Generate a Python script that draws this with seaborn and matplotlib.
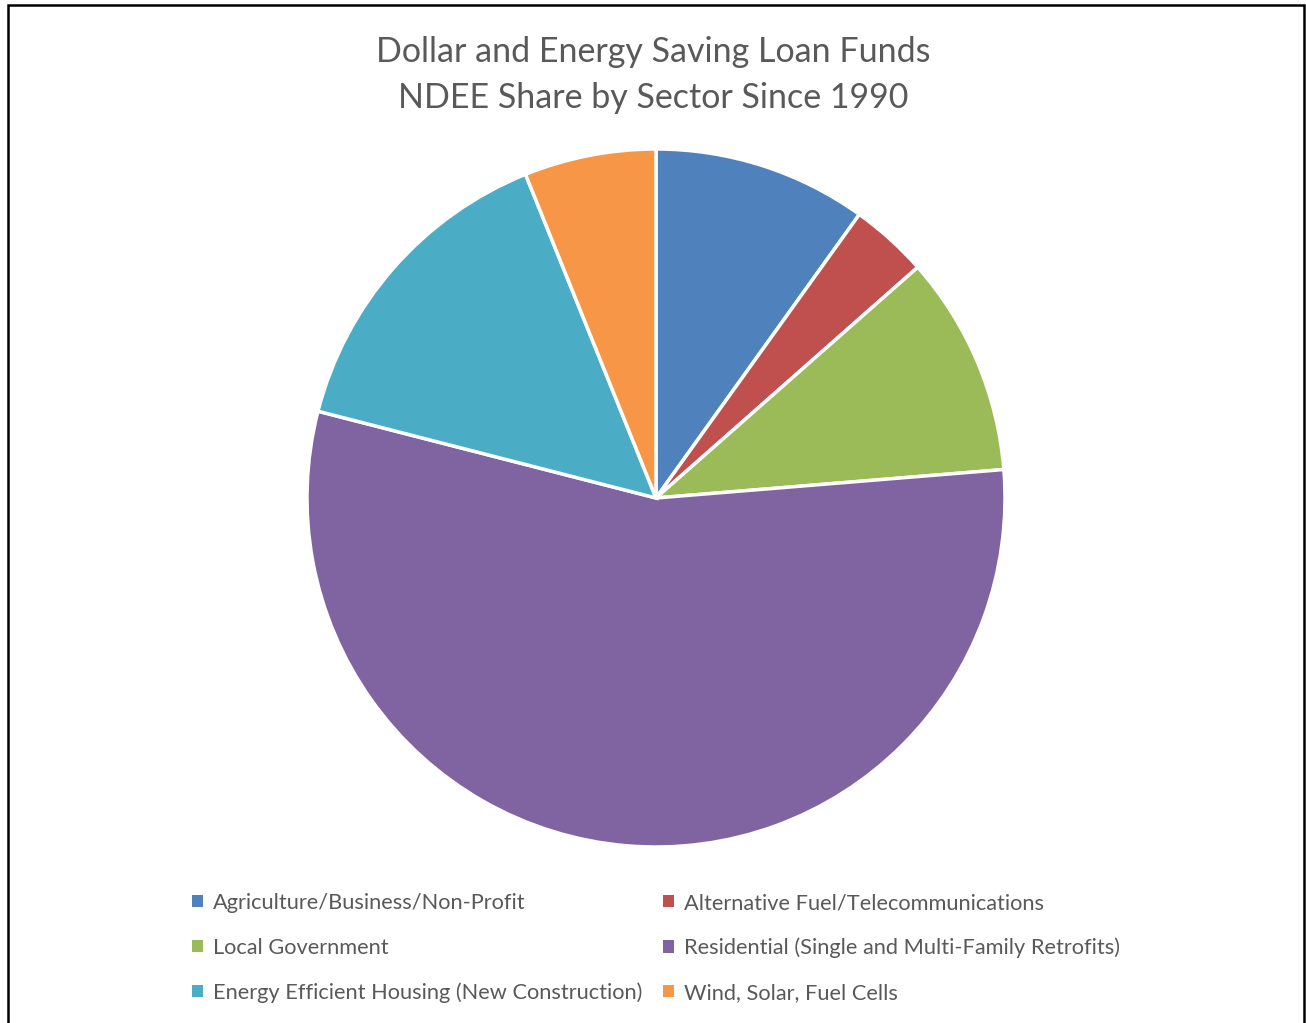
import matplotlib
matplotlib.use("Agg")
import matplotlib.pyplot as plt
import matplotlib.patches as mpatches
import seaborn as sns

sectors = [
    "Agriculture/Business/Non-Profit",
    "Alternative Fuel/Telecommunications",
    "Local Government",
    "Residential (Single and Multi-Family Retrofits)",
    "Energy Efficient Housing (New Construction)",
    "Wind, Solar, Fuel Cells",
]
shares = [9.9, 3.6, 10.2, 55.3, 14.9, 6.1]
colors = ["#4F81BD", "#C0504D", "#9BBB59", "#8064A2", "#4BACC6", "#F79646"]
title_lines = ["Dollar and Energy Saving Loan Funds", "NDEE Share by Sector Since 1990"]

sns.set_theme(style="white")
plt.rcParams["font.family"] = ["Lato", "DejaVu Sans"]

fig = plt.figure(figsize=(13.06, 10.23), dpi=100)
fig.patch.set_facecolor("white")

# chart border
border = mpatches.Rectangle((7.5 / 1306, -0.05), (1304 - 7.5) / 1306, 1.05 - 4.5 / 1023,
                            transform=fig.transFigure, fill=False, edgecolor="black",
                            linewidth=1.8, zorder=0)
fig.patches.append(border)

cx, cy, r = 656, 498, 349
ax = fig.add_axes([(cx - r) / 1306, (1023 - cy - r) / 1023, 2 * r / 1306, 2 * r / 1023])
wedges, _ = ax.pie(shares, colors=colors, startangle=90, counterclock=False,
                   wedgeprops=dict(edgecolor="white", linewidth=2.5))
ax.set_aspect("equal")
ax.set_xlim(-1, 1)
ax.set_ylim(-1, 1)
ax.axis("off")

fig.text(0.5, 1 - 52 / 1023, title_lines[0], ha="center", va="center",
         fontsize=24.5, color="#595959")
fig.text(0.5, 1 - 98 / 1023, title_lines[1], ha="center", va="center",
         fontsize=24.5, color="#595959")

handles = [mpatches.Patch(facecolor=c, edgecolor="none") for c in colors]
order = [0, 2, 4, 1, 3, 5]  # row-major layout in a 2-column legend
leg = fig.legend([handles[i] for i in order], [sectors[i] for i in order],
                 ncol=2, loc="upper left",
                 bbox_to_anchor=(192 / 1306, 1 - 893 / 1023),
                 frameon=False, fontsize=15.7, labelcolor="#595959",
                 handlelength=0.5, handleheight=0.5, handletextpad=0.45,
                 columnspacing=0.95, labelspacing=1.13, borderaxespad=0, borderpad=0)

fig.savefig("out.png", dpi=100, facecolor="white")
